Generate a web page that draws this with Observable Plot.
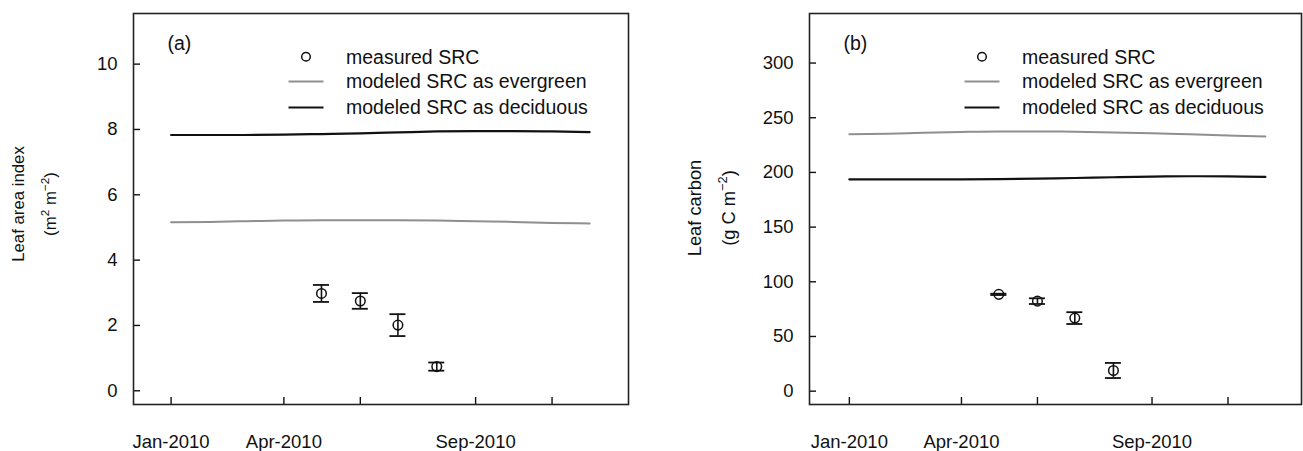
<!DOCTYPE html>
<html><head><meta charset="utf-8">
<script src="https://cdn.jsdelivr.net/npm/d3@7"></script>
<script src="https://cdn.jsdelivr.net/npm/@observablehq/plot@0.6"></script>
<style>
body{margin:0;background:#fff;}
#wrap{display:flex;width:1303px;height:451px;overflow:hidden;}
svg{font-family:"Liberation Sans",Arial,sans-serif;}
</style></head><body><div id="wrap"></div>
<script>
// ---- data ----
const monthDates = ["2010-01-01","2010-02-01","2010-03-01","2010-04-01","2010-05-01","2010-06-01",
                    "2010-07-01","2010-08-01","2010-09-01","2010-10-01","2010-11-01","2010-12-01"];
const laiEvergreen = [5.16, 5.17, 5.19, 5.21, 5.22, 5.22, 5.22, 5.21, 5.19, 5.17, 5.14, 5.12];
const laiDeciduous = [7.83, 7.83, 7.83, 7.84, 7.86, 7.88, 7.91, 7.94, 7.95, 7.95, 7.94, 7.92];
const lcEvergreen  = [234.8, 235.3, 236.2, 237.0, 237.5, 237.5, 237.2, 236.6, 235.8, 234.8, 233.8, 232.8];
const lcDeciduous  = [193.6, 193.6, 193.6, 193.7, 193.9, 194.3, 194.9, 195.6, 196.2, 196.5, 196.3, 195.9];

const measuredDates = ["2010-05-01","2010-06-01","2010-07-01","2010-08-01"];
const laiMeasured = [2.98, 2.75, 2.01, 0.74];
const laiErr      = [0.26, 0.24, 0.335, 0.125];
const lcMeasured  = [88.5, 82.3, 66.8, 18.9];
const lcErr       = [0.6, 2.6, 5.4, 6.9];

const xTickDates  = ["2010-01-01","2010-04-01","2010-06-01","2010-09-01","2010-11-01"];
const xLabelDates = ["2010-01-01","2010-04-01","2010-09-01"];
const laiTicks = [0, 2, 4, 6, 8, 10];
const lcTicks  = [0, 50, 100, 150, 200, 250, 300];
const legendLabels = ["measured SRC", "modeled SRC as evergreen", "modeled SRC as deciduous"];

const FONT = '"Liberation Sans", Arial, sans-serif';
const INK = "#111";
const GRAY = "#8f8f8f";

function panel(cfg) {
  const height = 451, marginTop = 13, marginBottom = 47;
  const {width, marginLeft, marginRight} = cfg;
  const fw = width - marginLeft - marginRight, fh = height - marginTop - marginBottom;
  const lines = monthDates.map((d, i) => ({date: new Date(d), ever: cfg.ever[i], deci: cfg.deci[i]}));
  const pts = measuredDates.map((d, i) => ({date: new Date(d), v: cfg.meas[i], lo: cfg.meas[i] - cfg.err[i], hi: cfg.meas[i] + cfg.err[i]}));
  const svg = Plot.plot({
    width, height, marginLeft, marginRight, marginTop, marginBottom,
    style: {fontFamily: FONT, fontSize: "18.5px", color: INK, background: "#fff", overflow: "visible"},
    x: {type: "utc", domain: cfg.xDomain.map(d => new Date(d)), axis: null},
    y: {domain: cfg.yDomain, axis: null},
    marks: [
      Plot.ruleX(xTickDates.map(d => new Date(d)), {insetTop: fh - 7, stroke: INK, strokeWidth: 1.4}),
      Plot.ruleY(cfg.yTicks, {insetRight: fw - 7, stroke: INK, strokeWidth: 1.4}),
      Plot.axisX(xLabelDates.map(d => new Date(d)), {tickSize: 0, tickPadding: 30, tickFormat: d3.utcFormat("%b-%Y"), label: null, fontSize: 18.5, fill: INK}),
      Plot.axisY(cfg.yTicks, {tickSize: 0, tickPadding: 16, label: null, fontSize: 18.5, fill: INK}),
      Plot.line(lines, {x: "date", y: "ever", stroke: GRAY, strokeWidth: 2, curve: "monotone-x"}),
      Plot.line(lines, {x: "date", y: "deci", stroke: INK, strokeWidth: 2.2, curve: "monotone-x"}),
      Plot.ruleX(pts, {x: "date", y1: "lo", y2: "hi", stroke: INK, strokeWidth: 1.6}),
      Plot.ruleY(pts, {y: "hi", x1: "date", x2: "date", insetLeft: -8, insetRight: -8, stroke: INK, strokeWidth: 1.8}),
      Plot.ruleY(pts, {y: "lo", x1: "date", x2: "date", insetLeft: -8, insetRight: -8, stroke: INK, strokeWidth: 1.8}),
      Plot.dot(pts, {x: "date", y: "v", r: 4.8, stroke: INK, strokeWidth: 1.5, fill: "none"}),
      Plot.frame({stroke: "#222", strokeWidth: 1.6}),
      Plot.text([cfg.tag], {frameAnchor: "top-left", dx: 34, dy: 23, fontSize: 19.5, textAnchor: "start", fill: INK})
    ]
  });

  const s = d3.select(svg);
  // legend
  const lg = s.append("g").attr("font-family", FONT).attr("font-size", 19.5).attr("fill", INK)
    .attr("text-anchor", "start");
  const cx = marginLeft + 173, tx = marginLeft + 213;
  const rows = [56.7, 81.5, 107.5];
  lg.append("circle").attr("cx", cx).attr("cy", rows[0]).attr("r", 4.3)
    .attr("fill", "none").attr("stroke", INK).attr("stroke-width", 1.5);
  lg.append("line").attr("x1", cx - 17.5).attr("x2", cx + 17.5).attr("y1", rows[1]).attr("y2", rows[1])
    .attr("stroke", GRAY).attr("stroke-width", 2);
  lg.append("line").attr("x1", cx - 17.5).attr("x2", cx + 17.5).attr("y1", rows[2]).attr("y2", rows[2])
    .attr("stroke", INK).attr("stroke-width", 2.2);
  legendLabels.forEach((t, i) => {
    lg.append("text").attr("x", tx).attr("y", rows[i]).attr("dy", "0.35em")
      .attr("text-anchor", "start").text(t);
  });

  // y-axis title (two lines, rotated)
  function ylab(x, y, size, parts) {
    const sh = size * 0.42;
    const t = s.append("text").attr("transform", `translate(${x},${y}) rotate(-90)`)
      .attr("text-anchor", "middle").attr("font-family", FONT).attr("font-size", size)
      .attr("fill", INK).attr("y", size * 0.35);
    let up = false;
    parts.forEach(([txt, sup]) => {
      const ts = t.append("tspan").text(txt);
      if (sup && !up) { ts.attr("dy", -sh).attr("font-size", size * 0.7); up = true; }
      else if (sup && up) { ts.attr("font-size", size * 0.7); }
      else if (!sup && up) { ts.attr("dy", sh); up = false; }
    });
  }
  ylab(cfg.lab1x, cfg.labY, cfg.labSize, [[cfg.lab1, false]]);
  ylab(cfg.lab2x, cfg.labY, cfg.labSize, cfg.lab2);
  return svg;
}

const wrap = document.getElementById("wrap");
wrap.appendChild(panel({
  width: 651, marginLeft: 133, marginRight: 23,
  xDomain: ["2009-12-02", "2011-01-01"], yDomain: [-0.42, 11.55], yTicks: laiTicks,
  ever: laiEvergreen, deci: laiDeciduous, meas: laiMeasured, err: laiErr, tag: "(a)",
  lab1: "Leaf area index", lab1x: 18.3, lab2x: 50, labY: 204, labSize: 16.8,
  lab2: [["(m", false], ["2", true], [" m", false], ["\u22122", true], [")", false]]
}));
wrap.appendChild(panel({
  width: 652, marginLeft: 158, marginRight: 2,
  xDomain: ["2009-11-30", "2010-12-30"], yDomain: [-12.2, 345.3], yTicks: lcTicks,
  ever: lcEvergreen, deci: lcDeciduous, meas: lcMeasured, err: lcErr, tag: "(b)",
  lab1: "Leaf carbon", lab1x: 44, lab2x: 77.3, labY: 208, labSize: 18.3,
  lab2: [["(g C m", false], ["\u22122", true], [")", false]]
}));
</script></body></html>
